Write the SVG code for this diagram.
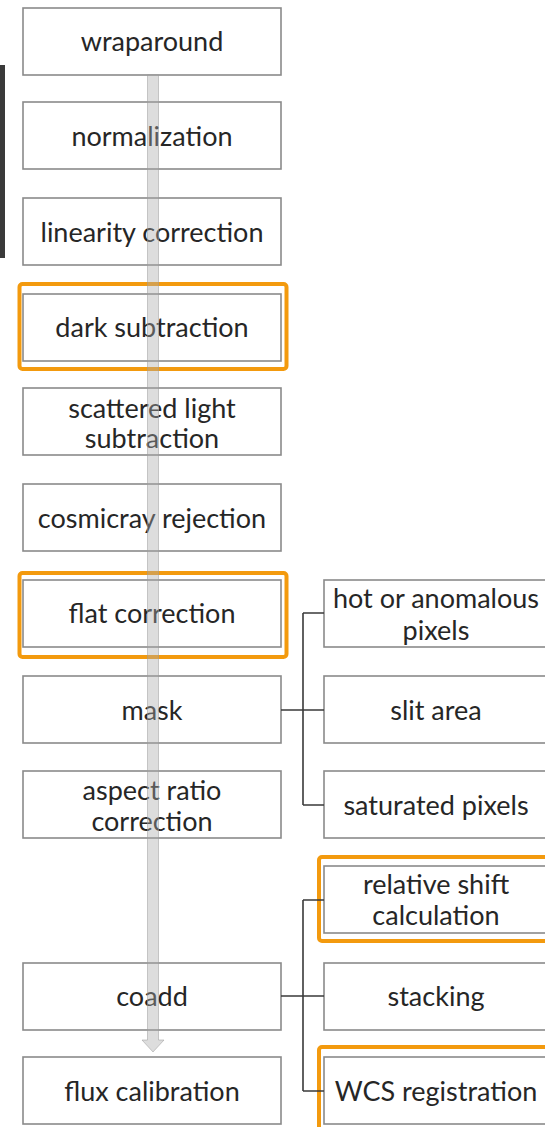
<svg xmlns="http://www.w3.org/2000/svg" width="545" height="1127" viewBox="0 0 545 1127">
<style>
.box{fill:#fff;stroke:#8a8a8a;stroke-width:1.6}
.hl{fill:none;stroke:#f39a0e;stroke-width:4;}
.t{font-family:"Lato","Open Sans",sans-serif;font-size:27px;fill:#262626;text-anchor:middle}
.c{fill:none;stroke:#3a3a3a;stroke-width:1.6}
</style>
<rect x="0" y="65" width="5" height="193" fill="#3a3a3a"/>
<g id="n1"><rect class="box" x="23" y="8" width="258" height="67"/><text class="t" x="152" y="51">wraparound</text></g>
<g id="n2"><rect class="box" x="23" y="102" width="258" height="67"/><text class="t" x="152" y="146">normalization</text></g>
<g id="n3"><rect class="box" x="23" y="198" width="258" height="67"/><text class="t" x="152" y="242">linearity correction</text></g>
<g id="n4"><rect class="box" x="23" y="294" width="258" height="67"/><rect class="hl" x="19.5" y="284" width="267" height="85" rx="3"/><text class="t" x="152" y="337">dark subtraction</text></g>
<g id="n5"><rect class="box" x="23" y="388" width="258" height="67"/><text class="t" x="152" y="418">scattered light</text><text class="t" x="152" y="448">subtraction</text></g>
<g id="n6"><rect class="box" x="23" y="484" width="258" height="67"/><text class="t" x="152" y="528">cosmicray rejection</text></g>
<g id="n7"><rect class="box" x="23" y="580" width="258" height="67"/><rect class="hl" x="19.5" y="573" width="267" height="84" rx="3"/><text class="t" x="152" y="623">flat correction</text></g>
<g id="n8"><rect class="box" x="23" y="676" width="258" height="67"/><text class="t" x="152" y="720">mask</text></g>
<g id="n9"><rect class="box" x="23" y="771" width="258" height="67"/><text class="t" x="152" y="800">aspect ratio</text><text class="t" x="152" y="831">correction</text></g>
<g id="n10"><rect class="box" x="23" y="963" width="258" height="67"/><text class="t" x="152" y="1006">coadd</text></g>
<g id="n11"><rect class="box" x="23" y="1057" width="258" height="67"/><text class="t" x="152" y="1101">flux calibration</text></g>
<g id="r1"><rect class="box" x="324" y="580" width="230" height="67"/><text class="t" x="436" y="608">hot or anomalous</text><text class="t" x="436" y="640">pixels</text></g>
<g id="r2"><rect class="box" x="324" y="676" width="230" height="67"/><text class="t" x="436" y="720">slit area</text></g>
<g id="r3"><rect class="box" x="324" y="771" width="230" height="67"/><text class="t" x="436" y="815">saturated pixels</text></g>
<g id="r4"><rect class="box" x="324" y="866" width="230" height="67"/><rect class="hl" x="319" y="857" width="240" height="84" rx="3"/><text class="t" x="436" y="894">relative shift</text><text class="t" x="436" y="925">calculation</text></g>
<g id="r5"><rect class="box" x="324" y="963" width="230" height="67"/><text class="t" x="436" y="1006">stacking</text></g>
<g id="r6"><rect class="box" x="324" y="1057" width="230" height="67"/><rect class="hl" x="319" y="1047" width="240" height="90" rx="3"/><text class="t" x="436" y="1101">WCS registration</text></g>
<g id="connectors">
<path class="c" d="M281 710H324M303 613V805M303 613H324M303 805H324"/>
<path class="c" d="M281 996H324M303 900V1091M303 900H324M303 1091H324"/>
<path d="M147.5 75V1040H142L153 1052L164 1040H158.5V75Z" fill="#aaa" fill-opacity="0.4" stroke="#999" stroke-opacity="0.5" stroke-width="1"/>
</g>
</svg>
